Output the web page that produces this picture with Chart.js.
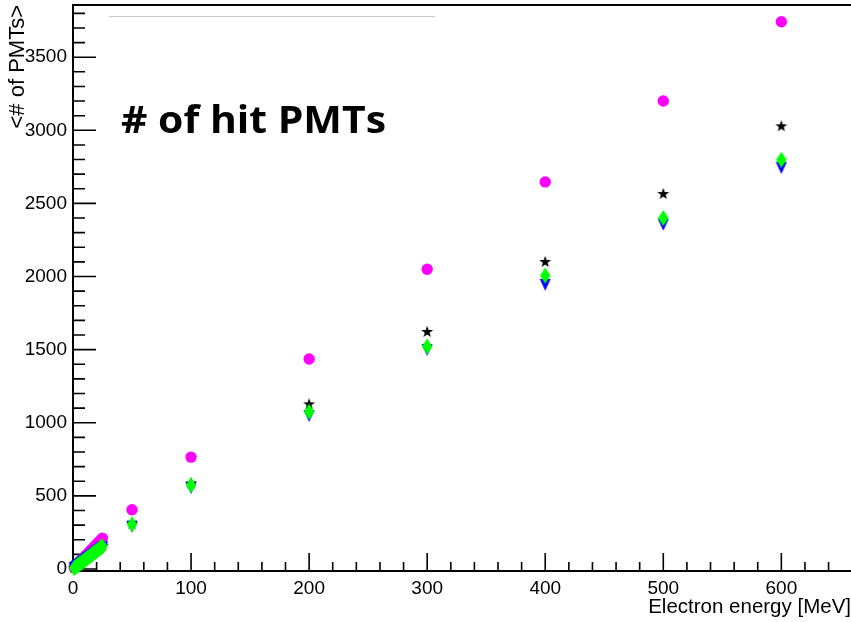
<!DOCTYPE html>
<html>
<head>
<meta charset="utf-8">
<script src="https://cdn.jsdelivr.net/npm/chart.js@4.4.1/dist/chart.umd.min.js"></script>
<style>
  html, body { margin: 0; padding: 0; background: #fff; }
  #wrap { width: 851px; height: 622px; }
</style>
</head>
<body>
<div id="wrap"><canvas id="hitChart" width="851" height="622"></canvas></div>
<script>
// Electron energies [MeV]
const energies = [1, 2, 3, 4, 5, 6, 7, 8, 9, 10, 11, 12, 13, 14, 15, 16, 17, 18, 19, 20, 21, 22, 23, 24, 25,
  50, 100, 200, 300, 400, 500, 600];

// <# of PMTs> per series
const magentaHits = [9, 17, 25, 34, 42, 50, 59, 67, 76, 84, 92, 101, 109, 117, 126, 134, 143, 151, 159, 168, 176, 185, 193, 201, 210,
  405, 765, 1436, 2050, 2647, 3200, 3742];
const starHits = [6, 13, 19, 25, 32, 38, 44, 51, 57, 63, 70, 76, 82, 89, 95, 101, 108, 114, 120, 127, 133, 139, 146, 152, 158,
  308, 585, 1126, 1621, 2099, 2564, 3027];
const greenHits = [6, 12, 19, 25, 31, 37, 43, 50, 56, 62, 68, 75, 81, 87, 93, 99, 106, 112, 118, 124, 130, 137, 143, 149, 155,
  305, 573, 1075, 1521, 2007, 2400, 2799];
const blueHits = [6, 12, 18, 24, 29, 35, 41, 47, 53, 59, 65, 71, 76, 82, 88, 94, 100, 106, 112, 118, 124, 129, 135, 141, 147,
  290, 553, 1046, 1498, 1943, 2354, 2742];

// tick labels
const xTickLabels = [0, 100, 200, 300, 400, 500, 600];
const yTickLabels = [0, 500, 1000, 1500, 2000, 2500, 3000, 3500];

const FONT = "'Liberation Sans', Arial, sans-serif";

// build marker images
function marker(w, h, color, pts) {
  const c = document.createElement('canvas');
  c.width = w; c.height = h;
  const g = c.getContext('2d');
  g.fillStyle = color;
  g.beginPath();
  pts.forEach((p, i) => i ? g.lineTo(p[0], p[1]) : g.moveTo(p[0], p[1]));
  g.closePath();
  g.fill();
  return c;
}

const starPts = [];
for (let i = 0; i < 10; i++) {
  const r = i % 2 ? 2.5 : 6.3;
  const a = -Math.PI / 2 + i * Math.PI / 5;
  starPts.push([7 + r * Math.cos(a), 7 + r * Math.sin(a)]);
}
const starImg = marker(14, 14, '#000000', starPts);
const diamondImg = marker(12, 18, '#00ff00', [[6, 1], [11.3, 9], [6, 17], [0.7, 9]]);
const triDownImg = marker(12, 14, '#0000ff', [[0.5, 1], [11.5, 1], [6, 13]]);

function toPoints(ys) {
  return energies.map((e, i) => ({ x: e, y: ys[i] }));
}

// drop chart.js label padding so the frame sits where ROOT put it
function noPad(s) {
  s.paddingTop = 0; s.paddingBottom = 0; s.paddingLeft = 0; s.paddingRight = 0;
}

// ROOT-like frame, inside ticks, title
const rootFrame = {
  id: 'rootFrame',
  beforeDatasetsDraw(chart) {
    const { ctx, chartArea: a, scales: { x, y } } = chart;
    ctx.save();
    ctx.strokeStyle = '#000';
    ctx.lineWidth = 1.6;
    ctx.beginPath();
    for (let v = 0; v <= x.max; v += 20) {
      const px = x.getPixelForValue(v);
      const len = v % 100 === 0 ? 18 : 9;
      ctx.moveTo(px, a.bottom);
      ctx.lineTo(px, a.bottom - len);
    }
    for (let v = 0; v <= y.max; v += 100) {
      const py = y.getPixelForValue(v);
      const len = v % 500 === 0 ? 23 : 12;
      ctx.moveTo(a.left, py);
      ctx.lineTo(a.left + len, py);
    }
    ctx.stroke();
    ctx.lineWidth = 2;
    ctx.strokeRect(a.left, a.top, a.right - a.left + 4, a.bottom - a.top);

    // faint line at top of the pad
    ctx.strokeStyle = '#c8c8c8';
    ctx.lineWidth = 1;
    ctx.beginPath();
    ctx.moveTo(109, 16.5);
    ctx.lineTo(435, 16.5);
    ctx.stroke();

    ctx.fillStyle = '#000';
    ctx.font = "bold 37px 'Open Sans', sans-serif";
    ctx.textBaseline = 'alphabetic';
    const w = ctx.measureText('# of hit PMTs').width;
    ctx.translate(121, 133);
    ctx.scale(265 / w, 1);
    ctx.fillText('# of hit PMTs', 0, 0);
    ctx.restore();
  }
};

new Chart(document.getElementById('hitChart'), {
  type: 'scatter',
  data: {
    datasets: [
      { label: 'green', data: toPoints(greenHits), pointStyle: diamondImg, order: 0, clip: false },
      { label: 'blue', data: toPoints(blueHits), pointStyle: triDownImg, order: 1, clip: false },
      { label: 'star', data: toPoints(starHits), pointStyle: starImg, order: 2, clip: false },
      { label: 'magenta', data: toPoints(magentaHits), pointStyle: 'circle', pointRadius: 5.7,
        backgroundColor: '#ff00ff', borderWidth: 0, order: 3, clip: false }
    ]
  },
  options: {
    responsive: false,
    animation: false,
    layout: { autoPadding: false, padding: { top: 5, right: 0, bottom: 0, left: 0 } },
    plugins: { legend: { display: false }, tooltip: { enabled: false } },
    scales: {
      x: {
        type: 'linear', min: 0, max: 659,
        grid: { display: false, drawTicks: false },
        border: { display: false },
        afterFit(s) { s.height = 51; noPad(s); },
        afterBuildTicks(s) { s.ticks = xTickLabels.map(v => ({ value: v })); },
        ticks: { padding: 6, color: '#000', font: { family: FONT, size: 19 }, maxRotation: 0, autoSkip: false,
          callback: v => String(v) },
        title: { display: true, text: 'Electron energy [MeV]', align: 'end', color: '#000',
          font: { family: FONT, size: 20.5 }, padding: { top: 0, bottom: 2 } }
      },
      y: {
        type: 'linear', min: -14, max: 3857,
        grid: { display: false, drawTicks: false },
        border: { display: false },
        afterFit(s) { s.width = 73; noPad(s); },
        afterBuildTicks(s) { s.ticks = yTickLabels.map(v => ({ value: v })); },
        ticks: { padding: 6, color: '#000', font: { family: FONT, size: 19 }, autoSkip: false,
          callback: v => String(v) },
        title: { display: true, text: '<# of PMTs>', align: 'end', color: '#000',
          font: { family: FONT, size: 22 }, padding: { top: 5, bottom: 0 } }
      }
    }
  },
  plugins: [rootFrame]
});
</script>
</body>
</html>
